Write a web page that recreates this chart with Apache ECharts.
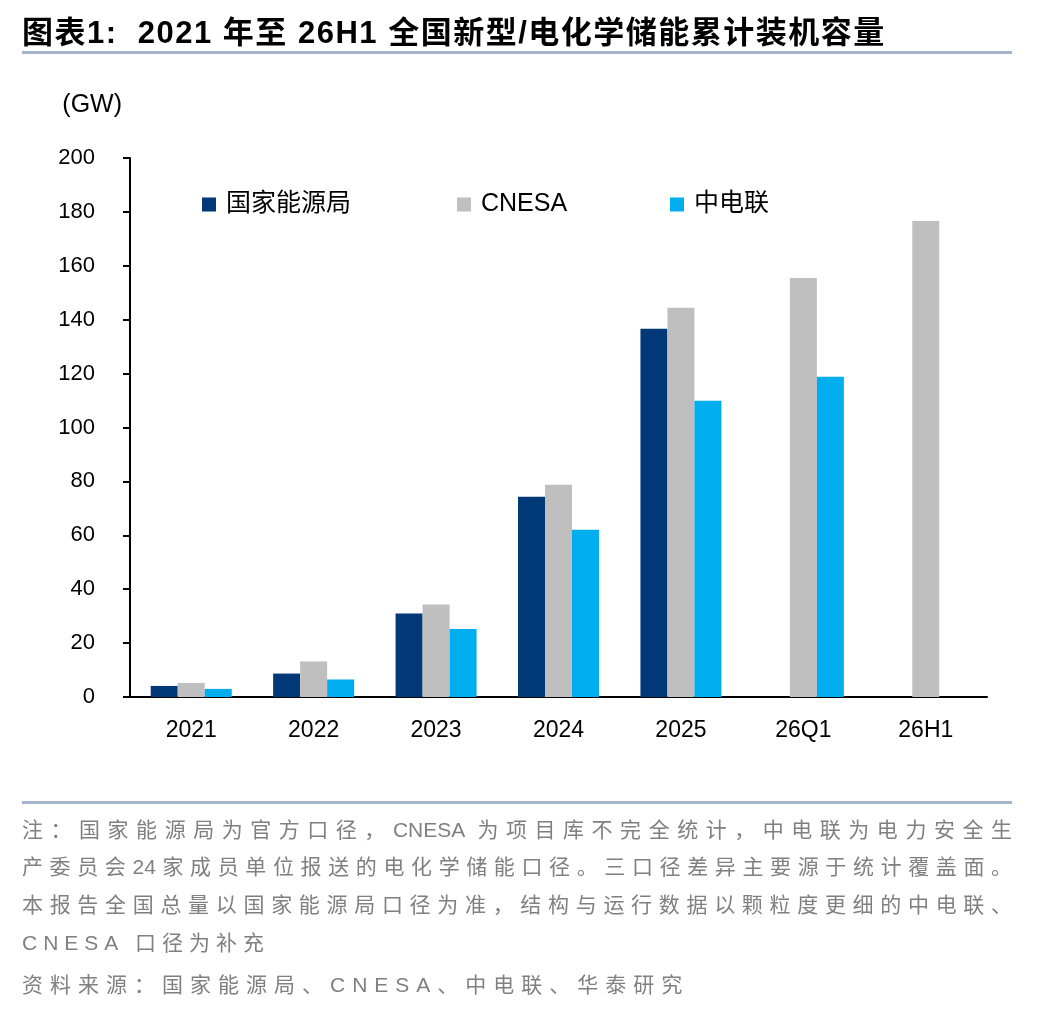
<!DOCTYPE html>
<html lang="zh-CN">
  <head>
    <meta charset="UTF-8" />
    <title>2021 年至 26H1 全国新型/电化学储能累计装机容量</title>
    <script src="https://cdn.jsdelivr.net/npm/echarts@6/dist/echarts.min.js"></script>
    <style>
      * {
        margin: 0;
        padding: 0;
      }
      body {
        background: #fff;
        width: 1048px;
        height: 1012px;
        position: relative;
        overflow: hidden;
        font-family: 'Liberation Sans', 'Noto Sans CJK SC', sans-serif;
      }
      #main {
        position: absolute;
        left: 0;
        top: 0;
        width: 1048px;
        height: 1012px;
      }
      .title {
        position: absolute;
        left: 22px;
        top: 14px;
        font-size: 31px;
        line-height: 38px;
        font-weight: bold;
        letter-spacing: 1.5px;
        color: #000;
        white-space: nowrap;
      }
      .rule {
        position: absolute;
        left: 22px;
        width: 990px;
        height: 3px;
        background: #a3b4cc;
      }
      .note {
        position: absolute;
        left: 22px;
        font-size: 21px;
        line-height: 26px;
        letter-spacing: 6px;
        color: #808080;
        white-space: nowrap;
      }
      .note.full {
        width: 990px;
        text-align: justify;
        text-align-last: justify;
        letter-spacing: 0;
      }
    </style>
  </head>
  <body>
    <div id="main"></div>
    <div class="title">图表1:&nbsp; 2021 年至 26H1 全国新型/电化学储能累计装机容量</div>
    <div class="rule" style="top: 51px"></div>
    <div class="rule" style="top: 801px"></div>
    <div class="note full" style="top: 817px">注：国家能源局为官方口径，CNESA 为项目库不完全统计，中电联为电力安全生</div>
    <div class="note full" style="top: 854px">产委员会24家成员单位报送的电化学储能口径。三口径差异主要源于统计覆盖面。</div>
    <div class="note full" style="top: 892px">本报告全国总量以国家能源局口径为准，结构与运行数据以颗粒度更细的中电联、</div>
    <div class="note" style="top: 930px">CNESA 口径为补充</div>
    <div class="note" style="top: 972px; letter-spacing: 7px">资料来源：国家能源局、CNESA、中电联、华泰研究</div>
    <script>
      // 累计装机容量（GW）
      var categories = ['2021', '2022', '2023', '2024', '2025', '26Q1', '26H1'];
      var neaData = [4.1, 8.7, 31.0, 74.3, 136.6, null, null];
      var cnesaData = [5.2, 13.2, 34.3, 78.8, 144.4, 155.5, 176.6];
      var cecData = [3.0, 6.5, 25.2, 62.1, 109.9, 118.8, null];
      var seriesNames = ['国家能源局', 'CNESA', '中电联'];
      var seriesColors = ['#003878', '#bfbfbf', '#00aeef'];
      var yTicks = { min: 0, max: 200, interval: 20 };

      var myChart = echarts.init(document.getElementById('main'));
      var axisColor = '#000';
      var fontFamily = "'Liberation Sans', 'Noto Sans CJK SC', sans-serif";
      var legendLeft = [202, 457, 670];

      function legendFor(i) {
        return {
          data: [seriesNames[i]],
          left: legendLeft[i],
          top: 192,
          padding: 0,
          icon: 'rect',
          itemWidth: 14,
          itemHeight: 14,
          selectedMode: false,
          textStyle: {
            fontSize: 25,
            color: '#000',
            fontFamily: fontFamily,
            padding: [0, 0, 0, 5]
          }
        };
      }

      var allData = [neaData, cnesaData, cecData];
      var series = allData.map(function (d, i) {
        return {
          name: seriesNames[i],
          type: 'bar',
          data: d,
          barWidth: 27,
          barGap: '0%',
          itemStyle: { color: seriesColors[i] },
          emphasis: { disabled: true }
        };
      });

      myChart.setOption({
        animation: false,
        textStyle: { fontFamily: fontFamily },
        legend: [legendFor(0), legendFor(1), legendFor(2)],
        grid: { left: 130, right: 61, top: 158, bottom: 315 },
        xAxis: {
          type: 'category',
          data: categories,
          axisLine: { lineStyle: { color: axisColor, width: 2 } },
          axisTick: { length: 8, lineStyle: { color: axisColor, width: 2 } },
          axisLabel: { fontSize: 23, color: '#000', margin: 22 }
        },
        yAxis: {
          type: 'value',
          min: yTicks.min,
          max: yTicks.max,
          interval: yTicks.interval,
          name: '(GW)',
          nameGap: 40,
          nameTextStyle: { fontSize: 25, color: '#000', align: 'right', padding: [0, 8, 0, 0] },
          splitLine: { show: false },
          axisLine: { show: true, lineStyle: { color: axisColor, width: 2 } },
          axisTick: { show: true, length: 7, lineStyle: { color: axisColor, width: 2 } },
          axisLabel: { fontSize: 22, color: '#000', margin: 35 }
        },
        series: series
      });
    </script>
  </body>
</html>
